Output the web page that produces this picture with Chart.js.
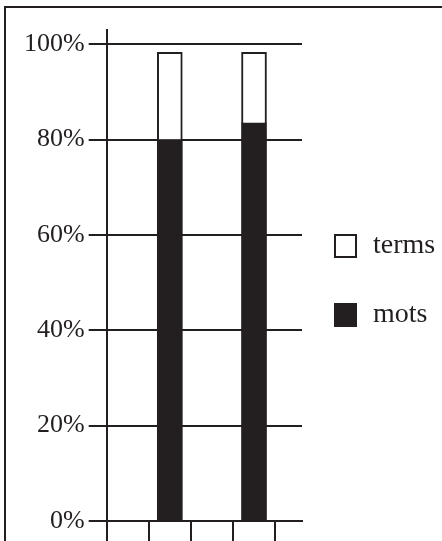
<!DOCTYPE html>
<html>
<head>
<meta charset="utf-8">
<script src="https://cdn.jsdelivr.net/npm/chart.js@4"></script>
<style>
  html, body { margin: 0; padding: 0; background: #fff; }
  #wrap { position: relative; width: 442px; height: 541px; overflow: hidden; }
  #frame { position: absolute; left: 4px; top: 6px; width: 600px; height: 700px;
           border-left: 2px solid #231f20; border-top: 2px solid #231f20; pointer-events: none; }
  #legend { position: absolute; left: 334px; top: 234px; margin: 0; padding: 0; list-style: none;
            font: 28px 'Liberation Serif', 'Times New Roman', serif; color: #231f20; }
  #legend li { display: flex; align-items: center; height: 24px; margin-bottom: 45px; white-space: nowrap; }
  #legend .box { width: 23px; height: 24px; box-sizing: border-box; border-style: solid; }
  #legend .txt { margin-left: 16px; line-height: 24px; position: relative; top: -2px; }
</style>
</head>
<body>
<div id="wrap">
  <canvas id="chart" width="442" height="541"></canvas>
  <ul id="legend"></ul>
  <div id="frame"></div>
</div>
<script>
// values
const seriesNames = ["mots", "terms"];
const barPositions = [1.5, 3.5];
const motsValues = [80, 83.5];
const termsValues = [18.3, 14.8];
const yTicks = [0, 20, 40, 60, 80, 100];
const xTicks = [0, 1, 2, 3, 4];

const ink = "#231f20";
const serif = "'Liberation Serif', 'Times New Roman', serif";

function points(values) {
  return barPositions.map((x, i) => ({ x: x, y: values[i] }));
}

// canvas legend gets squeezed to a quarter of the width, so build it in html
const htmlLegend = {
  id: "htmlLegend",
  afterUpdate(chart) {
    const ul = document.getElementById("legend");
    ul.innerHTML = "";
    const items = Chart.defaults.plugins.legend.labels.generateLabels(chart).reverse();
    items.forEach(item => {
      const li = document.createElement("li");
      const box = document.createElement("span");
      box.className = "box";
      box.style.background = item.fillStyle;
      box.style.borderColor = item.strokeStyle;
      box.style.borderWidth = item.lineWidth + "px";
      const txt = document.createElement("span");
      txt.className = "txt";
      txt.textContent = item.text;
      li.appendChild(box);
      li.appendChild(txt);
      ul.appendChild(li);
    });
  }
};

new Chart(document.getElementById("chart"), {
  type: "bar",
  data: {
    datasets: [
      {
        label: seriesNames[0],
        data: points(motsValues),
        backgroundColor: ink,
        borderColor: ink,
        borderWidth: 0
      },
      {
        label: seriesNames[1],
        data: points(termsValues),
        backgroundColor: "#ffffff",
        borderColor: ink,
        borderWidth: 2
      }
    ]
  },
  options: {
    responsive: false,
    animation: false,
    layout: { padding: { left: 20, top: 30, right: 140, bottom: 0 } },
    datasets: { bar: { barThickness: 25 } },
    plugins: {
      legend: { display: false },
      tooltip: { enabled: false }
    },
    scales: {
      x: {
        type: "linear",
        min: 0,
        max: 4.64,
        offset: false,
        stacked: true,
        afterBuildTicks: s => { s.ticks = xTicks.map(v => ({ value: v })); },
        grid: { offset: false, drawOnChartArea: false, tickLength: 20, color: ink, lineWidth: 2 },
        border: { color: ink, width: 2 },
        ticks: { display: false }
      },
      y: {
        stacked: true,
        min: 0,
        max: 103,
        afterBuildTicks: s => { s.ticks = yTicks.map(v => ({ value: v })); },
        grid: { color: ink, lineWidth: 2, tickLength: 18 },
        border: { color: ink, width: 2 },
        ticks: {
          font: { family: serif, size: 26 },
          color: ink,
          padding: 4,
          callback: v => v + "%"
        }
      }
    }
  },
  plugins: [htmlLegend]
});
</script>
</body>
</html>
